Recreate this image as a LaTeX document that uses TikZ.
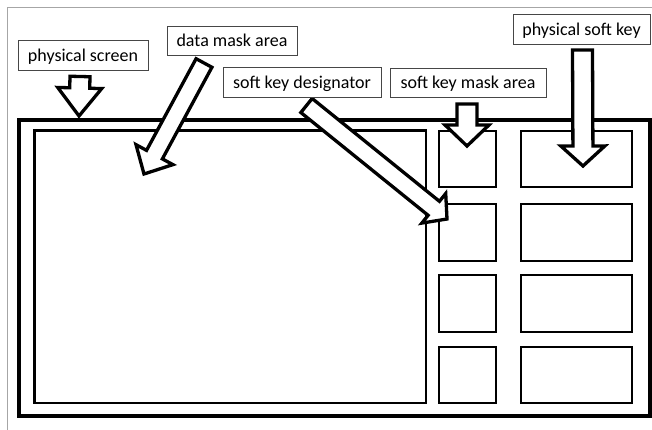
\documentclass[tikz,border=0pt]{standalone}
\usepackage{fontspec}
\setmainfont{Carlito}
\tikzset{
  frame/.style={draw=black, line width=4pt},
  maskbox/.style={draw=black, line width=2.8pt},
  arrowbody/.style={draw=black, fill=white, line width=3.3pt, line join=miter},
  lbl/.style={draw=gray!55!black, line width=0.9pt, fill=white, inner sep=0pt,
    text height=14pt, text depth=1pt,
    font=\fontsize{18}{21}\selectfont},
  pageedge/.style={draw=gray!70, line width=1pt}
}
\newcommand\blockarrow[7]{%
  \pgfmathsetmacro\bdx{#3-(#1)}%
  \pgfmathsetmacro\bdy{#4-(#2)}%
  \pgfmathsetmacro\blen{veclen(\bdx,\bdy)}%
  \pgfmathsetmacro\bux{\bdx/\blen}%
  \pgfmathsetmacro\buy{\bdy/\blen}%
  \pgfmathsetmacro\bbx{#3-#7*\bux}%
  \pgfmathsetmacro\bby{#4-#7*\buy}%
  \draw[arrowbody] ({#1-#5*(\buy)},{#2+#5*(\bux)})
    -- ({\bbx-#5*(\buy)},{\bby+#5*(\bux)})
    -- ({\bbx-#6*(\buy)},{\bby+#6*(\bux)})
    -- (#3,#4)
    -- ({\bbx+#6*(\buy)},{\bby-#6*(\bux)})
    -- ({\bbx+#5*(\buy)},{\bby-#5*(\bux)})
    -- ({#1+#5*(\buy)},{#2-#5*(\bux)}) -- cycle;
}
\begin{document}
\begin{tikzpicture}[x=1pt,y=-1pt]
\useasboundingbox (0,0) rectangle (652,430);
\fill[white] (0,0) rectangle (652,430);
% page edge
\draw[pageedge] (7,430) -- (7,8) -- (652,8);
% physical screen frame
\draw[frame] (19,120.5) rectangle (649.5,415.5);
% data mask area
\draw[maskbox] (34.5,130.5) rectangle (426,403);
% soft key designators
\foreach \t/\b in {131/187, 204/261, 275/332, 347/403}{
  \draw[maskbox] (439,\t) rectangle (496,\b);
  \draw[maskbox] (521,\t) rectangle (632,\b);
}
% block arrows
\blockarrow{80}{76.5}{79}{116}{10}{22}{28}
\blockarrow{204}{63}{144}{174}{9}{21}{22}
\blockarrow{306.5}{105.5}{447}{219}{9}{19}{17}
\blockarrow{467}{104}{467}{146}{10}{22}{21}
\blockarrow{582.5}{50}{583}{166}{10}{22}{20}
% labels
\node[lbl, minimum width=130pt, minimum height=30pt] (ps) at (83,55) {physical screen};
\node[lbl, minimum width=130pt, minimum height=29pt] (dm) at (232,40.5) {data mask area};
\node[lbl, minimum width=158pt, minimum height=30pt] (skd) at (302,82) {soft key designator};
\node[lbl, minimum width=156pt, minimum height=29pt] (skm) at (468,82.5) {soft key mask area};
\node[lbl, minimum width=137pt, minimum height=30pt] (psk) at (581.5,29) {physical soft key};
\end{tikzpicture}
\end{document}
